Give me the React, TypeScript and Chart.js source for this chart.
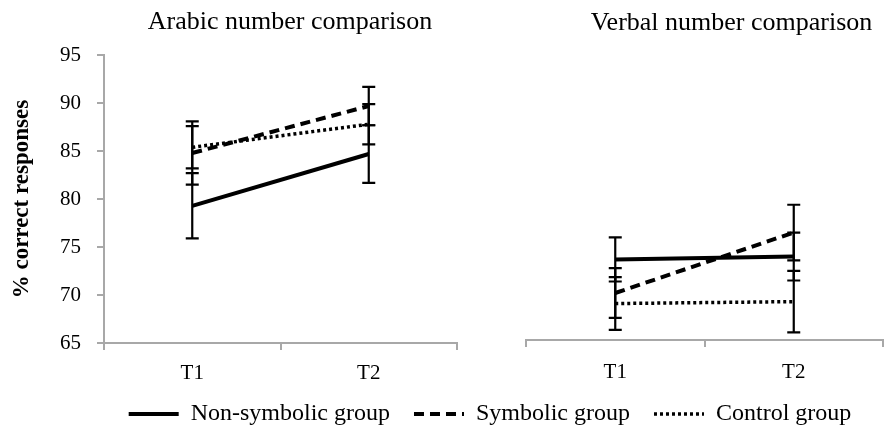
import React, { useEffect, useRef } from "react";
import { Chart, registerables } from "chart.js";

Chart.register(...registerables);

// ---------- data ----------
const timePoints = ["T1", "T2"];
const groupNames = ["Non-symbolic group", "Symbolic group", "Control group"];
const panelTitles = ["Arabic number comparison", "Verbal number comparison"];
const yAxisTitle = "% correct responses";
const yMin = 65;
const yMax = 95;
const yStep = 5;

const arabicNonSymbolic = [79.3, 84.7];
const arabicNonSymbolicErr = [3.4, 3.0];
const arabicSymbolic = [84.8, 89.7];
const arabicSymbolicErr = [3.3, 2.0];
const arabicControl = [85.4, 87.8];
const arabicControlErr = [2.2, 2.1];

const verbalNonSymbolic = [73.4, 73.7];
const verbalNonSymbolicErr = [2.3, 2.5];
const verbalSymbolic = [69.9, 76.2];
const verbalSymbolicErr = [2.6, 2.9];
const verbalControl = [68.8, 69.0];
const verbalControlErr = [2.75, 3.2];

// ---------- styles ----------
const FONT = "'Liberation Serif', 'Times New Roman', serif";
const AXIS_GRAY = "#a8a8a8";
const groupDashes = [[], [10, 6], [3, 3]];
const groupWidths = [4, 4, 3.5];

const errorBarPlugin = {
  id: "errorBars",
  afterDatasetsDraw(chart: any) {
    const { ctx } = chart;
    chart.data.datasets.forEach((ds: any, i: number) => {
      const errs = ds.errors;
      if (!errs) return;
      const meta = chart.getDatasetMeta(i);
      const xs = chart.scales[meta.xAxisID];
      const ys = chart.scales[meta.yAxisID];
      ctx.save();
      ctx.strokeStyle = "#000";
      ctx.lineWidth = 2.2;
      ctx.setLineDash([]);
      ds.data.forEach((v: number, j: number) => {
        const x = xs.getPixelForValue(j);
        const yT = ys.getPixelForValue(v + errs[j]);
        const yB = ys.getPixelForValue(v - errs[j]);
        ctx.beginPath();
        ctx.moveTo(x, yT);
        ctx.lineTo(x, yB);
        ctx.moveTo(x - 6.5, yT);
        ctx.lineTo(x + 6.5, yT);
        ctx.moveTo(x - 6.5, yB);
        ctx.lineTo(x + 6.5, yB);
        ctx.stroke();
      });
      ctx.restore();
    });
  },
};

function makeDatasets(values: number[][], errors: number[][]) {
  return values.map((vals, i) => ({
    label: groupNames[i],
    data: vals,
    errors: errors[i],
    borderColor: "#000",
    backgroundColor: "#000",
    borderWidth: groupWidths[i],
    borderDash: groupDashes[i],
    pointRadius: 0,
    pointHoverRadius: 0,
    tension: 0,
    fill: false,
  }));
}

// spacerWidth: an empty, invisible right-hand axis that only widens the
// title box so the title sits where it does in the reference.
function panelConfig(
  title: string,
  datasets: any[],
  showY: boolean,
  padding: any,
  titlePad: any,
  spacerWidth: number,
  xTickPad: number
) {
  return {
    type: "line",
    data: { labels: timePoints, datasets },
    plugins: [errorBarPlugin],
    options: {
      responsive: false,
      animation: false,
      devicePixelRatio: 1,
      layout: { padding },
      plugins: {
        legend: { display: false },
        tooltip: { enabled: false },
        title: {
          display: true,
          text: title,
          color: "#000",
          font: { family: FONT, size: 26, weight: "normal" },
          padding: titlePad,
        },
      },
      scales: {
        x: {
          type: "category",
          offset: true,
          border: { display: true, color: AXIS_GRAY, width: 2 },
          grid: {
            offset: true,
            drawOnChartArea: false,
            drawTicks: true,
            tickLength: 7,
            color: AXIS_GRAY,
            lineWidth: 2,
          },
          ticks: {
            color: "#000",
            font: { family: FONT, size: 21 },
            padding: xTickPad,
          },
          afterFit: (s: any) => {
            s.height = 49;
          },
        },
        y: {
          display: showY,
          min: yMin,
          max: yMax,
          border: { display: true, color: AXIS_GRAY, width: 2 },
          grid: {
            drawOnChartArea: false,
            drawTicks: true,
            tickLength: 7,
            color: AXIS_GRAY,
            lineWidth: 2,
          },
          ticks: {
            stepSize: yStep,
            color: "#000",
            font: { family: FONT, size: 21 },
            padding: 16,
          },
          title: {
            display: true,
            text: yAxisTitle,
            color: "#000",
            font: { family: FONT, size: 23, weight: "bold" },
            padding: { top: 0, bottom: 4 },
          },
          afterFit: (s: any) => {
            if (showY) s.width = 96;
          },
        },
        spacer: {
          type: "linear",
          position: "right",
          display: true,
          border: { display: false },
          grid: { display: false, drawTicks: false },
          ticks: { display: false },
          afterFit: (s: any) => {
            s.width = spacerWidth;
          },
        },
      },
    },
  };
}

function legendConfig() {
  return {
    type: "line",
    data: {
      labels: [],
      datasets: groupNames.map((name, i) => ({
        label: name,
        data: [],
        borderColor: "#000",
        borderWidth: groupWidths[i],
        borderDash: groupDashes[i],
      })),
    },
    options: {
      responsive: false,
      animation: false,
      devicePixelRatio: 1,
      layout: { padding: { left: 96, bottom: 4 } },
      scales: { x: { display: false }, y: { display: false } },
      plugins: {
        tooltip: { enabled: false },
        legend: {
          display: true,
          position: "bottom",
          labels: {
            usePointStyle: true,
            pointStyle: "line",
            pointStyleWidth: 50,
            color: "#000",
            padding: 24,
            font: { family: FONT, size: 24 },
            generateLabels: () =>
              groupNames.map((name, i) => ({
                text: name,
                fillStyle: "rgba(0,0,0,0)",
                strokeStyle: "#000",
                lineWidth: groupWidths[i],
                lineDash: groupDashes[i],
                pointStyle: "line",
                hidden: false,
                datasetIndex: i,
                fontColor: "#000",
              })),
          },
        },
      },
    },
  };
}

function ChartCanvas({ config, width, height }: any) {
  const ref = useRef<HTMLCanvasElement>(null);
  useEffect(() => {
    if (!ref.current) return;
    const chart = new Chart(ref.current, config());
    return () => chart.destroy();
  }, []);
  return (
    <canvas
      ref={ref}
      width={width}
      height={height}
      style={{ display: "block", width, height }}
    />
  );
}

export default function App() {
  return (
    <div
      style={{
        position: "absolute",
        left: 0,
        top: 0,
        width: 884,
        height: 440,
        overflow: "hidden",
        background: "#fff",
      }}
    >
      <div style={{ position: "absolute", left: 0, top: 0 }}>
        <ChartCanvas
          width={580}
          height={392}
          config={() =>
            panelConfig(
              panelTitles[0],
              makeDatasets(
                [arabicNonSymbolic, arabicSymbolic, arabicControl],
                [arabicNonSymbolicErr, arabicSymbolicErr, arabicControlErr]
              ),
              true,
              { left: 8, right: 8, top: 0, bottom: 0 },
              { top: 7, bottom: 17 },
              115,
              11
            )
          }
        />
      </div>
      <div style={{ position: "absolute", left: 480, top: 0 }}>
        <ChartCanvas
          width={504}
          height={389}
          config={() =>
            panelConfig(
              panelTitles[1],
              makeDatasets(
                [verbalNonSymbolic, verbalSymbolic, verbalControl],
                [verbalNonSymbolicErr, verbalSymbolicErr, verbalControlErr]
              ),
              false,
              { left: 46, right: 47, top: 0, bottom: 0 },
              { top: 8, bottom: 13 },
              54,
              13
            )
          }
        />
      </div>
      <div style={{ position: "absolute", left: 0, top: 300 }}>
        <ChartCanvas width={884} height={140} config={legendConfig} />
      </div>
    </div>
  );
}
